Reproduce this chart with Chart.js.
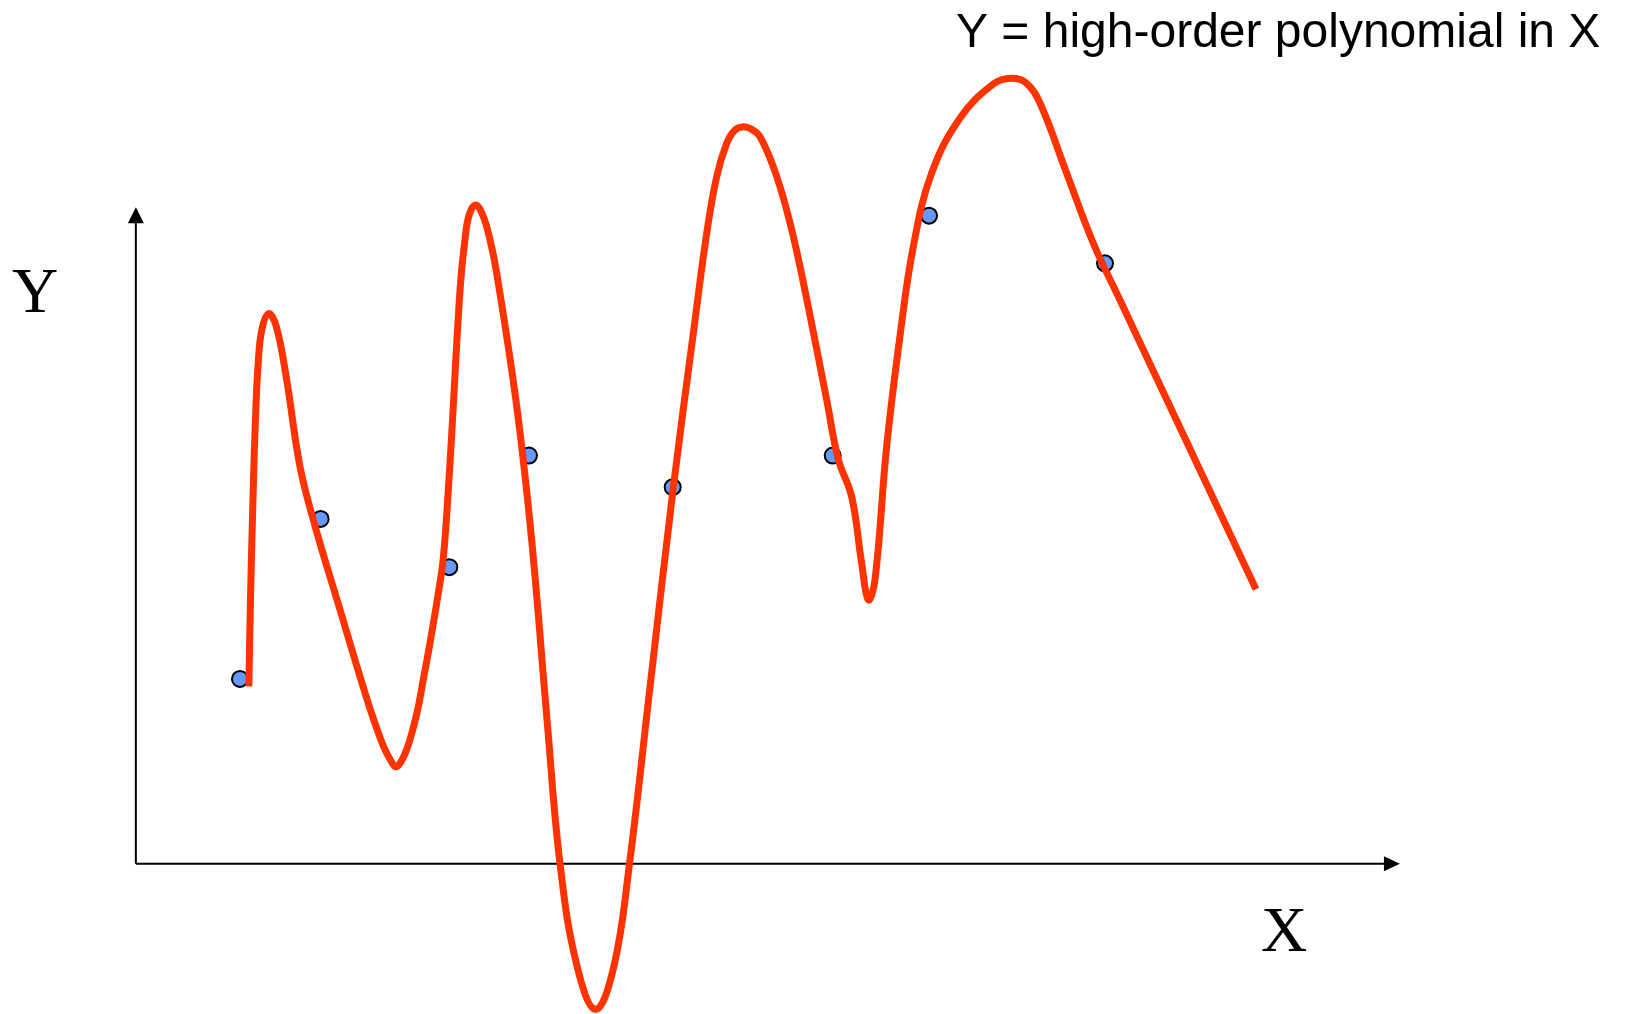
<!DOCTYPE html>
<html>
<head>
<meta charset="utf-8">
<title>Y = high-order polynomial in X</title>
<script src="https://cdn.jsdelivr.net/npm/chart.js@4/dist/chart.umd.min.js"></script>
<style>
  html, body { margin: 0; padding: 0; background: #fff; overflow: hidden; }
  #wrap { width: 1626px; height: 1014px; }
</style>
</head>
<body>
<div id="wrap"><canvas id="polyChart" width="1626" height="1014"></canvas></div>
<script>
// curve (x along X axis, y along Y axis)
const curveX = [
  10.90, 11.05, 11.30, 11.55, 11.80, 12.15, 12.80, 13.55, 14.54, 15.83,
  17.30, 19.69, 21.30, 22.70, 23.85, 24.55, 25.06, 25.55, 26.15, 26.70,
  27.24, 27.80, 28.37, 29.17, 29.65, 30.13, 30.52, 31.26, 31.74, 32.15,
  32.77, 33.45, 34.10, 34.80, 36.73, 38.17, 39.70, 40.90, 42.50, 44.34,
  46.10, 47.59, 49.60, 51.83, 53.76, 55.05, 56.01, 56.98, 57.78, 58.58,
  59.39, 60.19, 61.47, 62.76, 64.05, 66.62, 67.74, 69.03, 69.99, 70.64,
  71.28, 72.40, 73.69, 74.97, 76.74, 79.47, 82.69, 84.46, 85.90, 87.20,
  89.76, 92.33, 94.90, 100.90, 108.02
];
const curveY = [
  17.10, 25.30, 35.30, 43.30, 48.30, 51.50, 53.05, 51.80, 46.70, 38.30,
  32.50, 24.50, 19.10, 14.60, 11.40, 10.00, 9.35, 9.80, 11.10, 12.90,
  15.15, 18.20, 21.30, 26.10, 29.50, 36.00, 42.50, 55.30, 60.20, 62.60,
  63.53, 62.55, 60.40, 56.94, 44.10, 31.20, 13.30, 0.05, -9.70, -14.05,
  -9.90, -0.10, 17.20, 36.30, 51.16, 60.80, 66.26, 69.48, 70.76, 71.08,
  70.83, 70.12, 67.23, 63.05, 57.58, 44.73, 39.00, 35.40, 29.00, 25.44,
  27.40, 40.20, 50.90, 59.50, 66.60, 71.90, 75.20, 75.75, 75.26, 73.34,
  66.60, 59.84, 54.37, 41.60, 26.47
];

// observed data points (blue dots)
const pointX = [10.04, 17.82, 30.23, 37.91, 51.77, 67.20, 76.49, 93.46];
const pointY = [17.82, 33.25, 28.60, 39.36, 36.31, 39.36, 62.50, 57.90];

const titleText = 'Y = high-order polynomial in X';
const xLabel = 'X';
const yLabel = 'Y';

const curveData = curveX.map((x, i) => ({ x: x, y: curveY[i] }));
const pointData = pointX.map((x, i) => ({ x: x, y: pointY[i] }));

// axes with arrow heads, drawn under the curve
const arrowAxes = {
    id: 'arrowAxes',
    beforeDatasetsDraw(chart) {
        const ctx = chart.ctx;
        const xs = chart.scales.x;
        const ys = chart.scales.y;
        const ox = xs.getPixelForValue(0);
        const oy = ys.getPixelForValue(0);
        const yTop = ys.getPixelForValue(63.3);
        const xEnd = xs.getPixelForValue(121.9);

        ctx.save();
        ctx.strokeStyle = '#000';
        ctx.fillStyle = '#000';
        ctx.lineWidth = 2;

        ctx.beginPath();
        ctx.moveTo(ox, oy);
        ctx.lineTo(ox, yTop + 12);
        ctx.moveTo(ox, oy);
        ctx.lineTo(xEnd - 12, oy);
        ctx.stroke();

        // Y arrow head
        ctx.beginPath();
        ctx.moveTo(ox, yTop);
        ctx.lineTo(ox - 8, yTop + 16);
        ctx.lineTo(ox + 8, yTop + 16);
        ctx.closePath();
        ctx.fill();

        // X arrow head
        ctx.beginPath();
        ctx.moveTo(xEnd, oy);
        ctx.lineTo(xEnd - 16, oy - 7.5);
        ctx.lineTo(xEnd - 16, oy + 7.5);
        ctx.closePath();
        ctx.fill();
        ctx.restore();
    },
    afterDraw(chart) {
        const ctx = chart.ctx;
        ctx.save();
        ctx.fillStyle = '#000';
        ctx.textBaseline = 'alphabetic';

        ctx.font = '48px "Liberation Sans", Arial, sans-serif';
        ctx.textAlign = 'left';
        ctx.fillText(titleText, 956, 47);

        ctx.font = '64px "Liberation Serif", "Times New Roman", serif';
        ctx.textAlign = 'center';
        ctx.fillText(yLabel, 35, 312);
        ctx.fillText(xLabel, 1284, 951);
        ctx.restore();
    }
};

new Chart(document.getElementById('polyChart'), {
    type: 'line',
    data: {
        datasets: [{
            label: 'fit',
            data: curveData,
            borderColor: '#ff3300',
            borderWidth: 7,
            borderCapStyle: 'butt',
            borderJoinStyle: 'round',
            tension: 0.4,
            pointRadius: 0,
            fill: false,
            order: 0,
        }, {
            label: 'data',
            data: pointData,
            showLine: false,
            pointRadius: 8,
            pointBackgroundColor: '#6699ff',
            pointBorderColor: '#000',
            pointBorderWidth: 2,
            order: 1,
        }],
    },
    options: {
        responsive: false,
        animation: false,
        devicePixelRatio: 1,
        layout: { padding: 0, autoPadding: false },
        plugins: {
            legend: { display: false },
            tooltip: { enabled: false },
            title: { display: false },
        },
        scales: {
            x: { type: 'linear', min: -13.1, max: 143.7, display: false },
            y: { type: 'linear', min: -14.5, max: 83.3, display: false },
        },
    },
    plugins: [arrowAxes],
});
</script>
</body>
</html>
